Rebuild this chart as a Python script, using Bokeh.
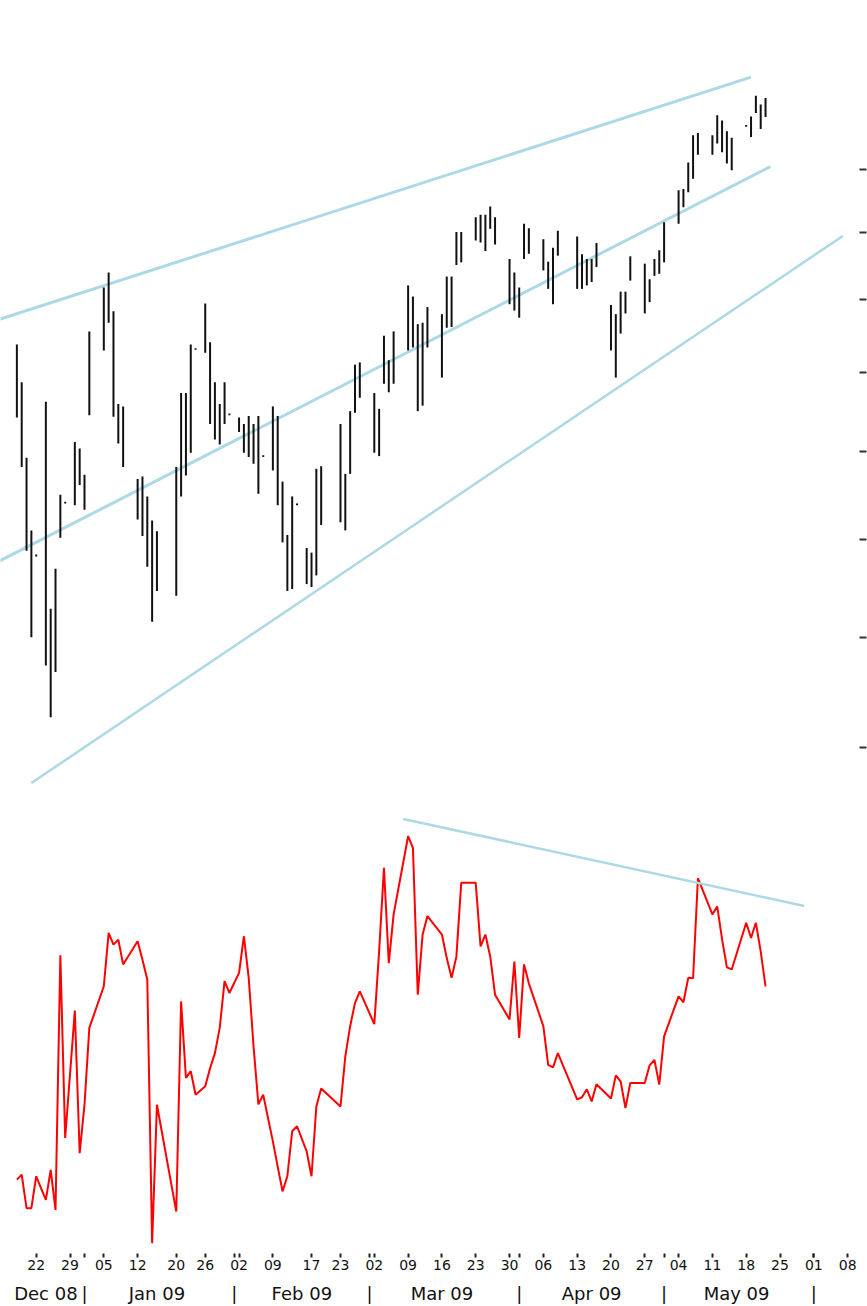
import datetime as dt
from bokeh.plotting import figure
from bokeh.models import (Range1d, LinearAxis, FixedTicker, CustomJSTickFormatter,
                          LinearScale, ColumnDataSource)
from bokeh.embed import file_html
from bokeh.resources import INLINE

# ---------------- data ----------------
dates = ["2008-12-18", "2008-12-19", "2008-12-20", "2008-12-21", "2008-12-22", "2008-12-24",
         "2008-12-25", "2008-12-26", "2008-12-27", "2008-12-28", "2008-12-30", "2008-12-31",
         "2009-01-01", "2009-01-02", "2009-01-05", "2009-01-06", "2009-01-07", "2009-01-08",
         "2009-01-09", "2009-01-12", "2009-01-13", "2009-01-14", "2009-01-15", "2009-01-16",
         "2009-01-20", "2009-01-21", "2009-01-22", "2009-01-23", "2009-01-24", "2009-01-26",
         "2009-01-27", "2009-01-28", "2009-01-29", "2009-01-30", "2009-01-31", "2009-02-02",
         "2009-02-03", "2009-02-04", "2009-02-05", "2009-02-06", "2009-02-07", "2009-02-09",
         "2009-02-10", "2009-02-11", "2009-02-12", "2009-02-13", "2009-02-14", "2009-02-16",
         "2009-02-17", "2009-02-18", "2009-02-19", "2009-02-23", "2009-02-24", "2009-02-25",
         "2009-02-26", "2009-02-27", "2009-03-02", "2009-03-03", "2009-03-04", "2009-03-05",
         "2009-03-06", "2009-03-09", "2009-03-10", "2009-03-11", "2009-03-12", "2009-03-13",
         "2009-03-16", "2009-03-17", "2009-03-18", "2009-03-19", "2009-03-20", "2009-03-23",
         "2009-03-24", "2009-03-25", "2009-03-26", "2009-03-27", "2009-03-30", "2009-03-31",
         "2009-04-01", "2009-04-02", "2009-04-03", "2009-04-06", "2009-04-07", "2009-04-08",
         "2009-04-09", "2009-04-13", "2009-04-14", "2009-04-15", "2009-04-16", "2009-04-17",
         "2009-04-20", "2009-04-21", "2009-04-22", "2009-04-23", "2009-04-24", "2009-04-27",
         "2009-04-28", "2009-04-29", "2009-04-30", "2009-05-01", "2009-05-04", "2009-05-05",
         "2009-05-06", "2009-05-07", "2009-05-08", "2009-05-11", "2009-05-12", "2009-05-13",
         "2009-05-14", "2009-05-15", "2009-05-18", "2009-05-19", "2009-05-20", "2009-05-21",
         "2009-05-22"]

highs = [117.7, 112.7, 103.3, 95.0, 92.4, 110.2, 86.8, 90.9, 99.0, 98.2, 105.2, 104.4,
         101.3, 119.5, 125.7, 127.9, 122.3, 109.9, 109.6, 100.8, 101.1, 98.8, 96.1, 94.9,
         102.2, 111.3, 111.3, 117.7, 117.2, 123.4, 118.0, 112.7, 109.9, 112.7, 108.7, 108.2,
         107.4, 108.4, 107.4, 108.4, 103.6, 109.6, 108.4, 100.5, 94.5, 98.8, 98.0, 93.1,
         92.6, 102.0, 102.3, 107.4, 101.4, 109.0, 115.0, 115.3, 111.3, 109.3, 118.9, 115.6,
         119.5, 126.0, 124.4, 120.5, 120.7, 122.9, 121.9, 127.3, 127.3, 134.0, 134.0, 136.3,
         136.7, 136.7, 138.0, 136.3, 129.9, 127.9, 125.7, 135.3, 134.6, 132.9, 129.5, 131.6,
         134.2, 133.3, 130.6, 129.9, 129.9, 132.3, 123.2, 121.9, 125.1, 125.1, 130.3, 129.2,
         126.9, 129.9, 131.2, 135.5, 140.6, 140.8, 145.2, 149.8, 150.2, 149.8, 153.3, 152.4,
         150.5, 149.4, 151.6, 153.1, 156.8, 155.2, 156.4]

lows = [108.2, 102.2, 92.8, 84.0, 92.2, 81.3, 76.6, 80.7, 94.2, 98.0, 97.8, 100.1,
        97.3, 108.5, 116.9, 120.7, 108.3, 105.0, 102.2, 96.2, 94.4, 91.1, 85.5, 88.6,
        88.1, 98.8, 101.2, 103.9, 117.0, 116.6, 107.4, 105.5, 104.9, 107.4, 108.5, 106.4,
        103.9, 103.4, 102.6, 99.1, 103.4, 101.8, 97.8, 93.7, 88.6, 88.8, 97.8, 89.3,
        89.0, 90.2, 95.6, 95.9, 95.0, 101.4, 108.8, 110.7, 103.9, 103.5, 112.5, 111.4,
        112.5, 116.9, 117.3, 109.0, 109.7, 117.3, 113.3, 120.0, 120.1, 129.0, 129.4, 132.7,
        132.4, 131.1, 134.5, 132.1, 123.3, 122.4, 121.4, 129.9, 130.7, 128.2, 125.5, 123.3,
        130.4, 125.5, 125.5, 126.0, 126.5, 128.7, 116.9, 113.3, 119.2, 122.0, 126.7, 122.0,
        123.6, 127.4, 127.7, 129.4, 135.3, 137.9, 140.3, 142.5, 146.5, 146.5, 148.4, 146.9,
        145.0, 143.9, 151.3, 149.5, 153.7, 150.9, 153.0]

indicator = [17.1, 18.3, 10.3, 10.3, 17.9, 12.3, 19.4, 9.9, 70.5, 27.0, 57.3, 23.4,
             34.9, 53.2, 63.1, 75.8, 73.0, 74.2, 68.3, 73.8, 69.4, 64.7, 2.0, 34.9,
             9.5, 59.5, 41.3, 42.9, 37.3, 39.3, 43.6, 47.2, 53.2, 64.3, 61.5, 66.3,
             75.0, 65.1, 48.8, 35.0, 37.3, 26.2, 20.2, 14.3, 17.9, 28.6, 29.8, 23.8,
             17.9, 34.5, 38.8, 34.5, 46.4, 53.6, 59.1, 61.9, 54.1, 71.4, 91.3, 68.6,
             80.2, 98.8, 96.0, 61.1, 75.4, 79.8, 75.4, 69.8, 65.1, 70.2, 87.7, 87.7,
             72.6, 75.4, 70.2, 61.1, 55.2, 69.0, 50.8, 68.3, 63.8, 53.6, 44.4, 43.8,
             47.2, 36.2, 36.7, 38.6, 35.7, 39.8, 36.4, 41.9, 40.5, 34.1, 40.1, 40.1,
             44.3, 45.6, 39.7, 51.2, 60.7, 59.3, 65.1, 65.0, 88.8, 80.2, 82.1, 74.3,
             67.6, 67.1, 78.2, 74.6, 78.2, 71.4, 63.1]

# trend lines (end points: date, value)
trend_upper_dates = ["2008-12-14", "2009-05-19"]
trend_upper_vals = [121.1, 160.2]
trend_mid_dates = ["2008-12-14", "2009-05-23"]
trend_mid_vals = [91.6, 144.5]
trend_low_dates = ["2008-12-21", "2009-06-07"]
trend_low_vals = [71.0, 133.4]
trend_ind_dates = ["2009-03-08", "2009-05-30"]
trend_ind_vals = [102.9, 82.2]

# axis ticks
price_ticks = [74, 84, 94, 104, 114, 124, 134, 144]
day_tick_dates = ["2008-12-22", "2008-12-29", "2009-01-05", "2009-01-12", "2009-01-20",
                  "2009-01-26", "2009-02-02", "2009-02-09", "2009-02-17", "2009-02-23",
                  "2009-03-02", "2009-03-09", "2009-03-16", "2009-03-23", "2009-03-30",
                  "2009-04-06", "2009-04-13", "2009-04-20", "2009-04-27", "2009-05-04",
                  "2009-05-11", "2009-05-18", "2009-05-25", "2009-06-01", "2009-06-08"]
day_tick_labels = ["22", "29", "05", "12", "20", "26", "02", "09", "17", "23", "02", "09",
                   "16", "23", "30", "06", "13", "20", "27", "04", "11", "18", "25", "01", "08"]
month_start_dates = ["2009-01-01", "2009-02-01", "2009-03-01", "2009-04-01", "2009-05-01",
                     "2009-06-01"]
month_label_dates = ["2008-12-24", "2009-01-16", "2009-02-15", "2009-03-16", "2009-04-16",
                     "2009-05-16"]
month_labels = ["Dec 08", "Jan 09", "Feb 09", "Mar 09", "Apr 09", "May 09"]

# ---------------- helpers ----------------
BASE = dt.date(2009, 1, 1)


def dnum(s):
    return float((dt.date.fromisoformat(s) - BASE).days)


xs = [dnum(s) for s in dates]

# ---------------- figure ----------------
p = figure(width=867, height=1306, x_range=Range1d(-17.391, 160.455),
           y_range=Range1d(41.28, 174.99),
           y_axis_type="log", y_axis_location="right", x_axis_location=None,
           output_backend="svg", toolbar_location=None,
           min_border_left=0, min_border_right=8, min_border_top=0, min_border_bottom=0)
p.extra_y_ranges = {"ind": Range1d(-0.476, 297.62)}
p.extra_y_scales = {"ind": LinearScale()}
p.outline_line_color = None
p.grid.grid_line_color = None
p.background_fill_color = "white"
p.border_fill_color = "white"

TREND = "#ADD8E6"

# trend lines (top)
p.line([dnum(s) for s in trend_upper_dates], trend_upper_vals, line_color=TREND, line_width=3)
p.line([dnum(s) for s in trend_mid_dates], trend_mid_vals, line_color=TREND, line_width=3)
p.line([dnum(s) for s in trend_low_dates], trend_low_vals, line_color=TREND, line_width=2.5)

# price bars
src = ColumnDataSource(dict(x=xs, high=highs, low=lows, ind=indicator))
p.segment(x0="x", y0="high", x1="x", y1="low", source=src, line_color="#111111", line_width=2)

# indicator
p.line(x="x", y="ind", source=src, y_range_name="ind", line_color="red", line_width=2)
p.line([dnum(s) for s in trend_ind_dates], trend_ind_vals, y_range_name="ind",
       line_color=TREND, line_width=2.5)

# right price axis: tick marks only (labels fall outside the view)
ya = p.yaxis[0]
ya.ticker = FixedTicker(ticks=price_ticks)
ya.formatter = CustomJSTickFormatter(code="return '';")
ya.axis_line_color = None
ya.major_tick_in = 0
ya.major_tick_out = 7
ya.major_tick_line_width = 2
ya.major_tick_line_color = "#333333"
ya.minor_tick_line_color = None
ya.major_label_standoff = 0
ya.major_label_text_font_size = "1px"

LOOKUP = "const i = tv.findIndex(t => Math.abs(t - tick) < 1e-6); return i < 0 ? '' : tl[i];"

day_x = [dnum(s) for s in day_tick_dates]
mstart_x = [dnum(s) for s in month_start_dates]
ax_days = LinearAxis(
    ticker=FixedTicker(ticks=day_x, minor_ticks=mstart_x),
    formatter=CustomJSTickFormatter(args=dict(tv=day_x, tl=day_tick_labels), code=LOOKUP))
ax_days.axis_line_color = None
ax_days.major_tick_in = 0
ax_days.major_tick_out = 4
ax_days.minor_tick_in = 0
ax_days.minor_tick_out = 4
ax_days.major_tick_line_width = 2
ax_days.minor_tick_line_width = 2
ax_days.major_tick_line_color = "#222222"
ax_days.minor_tick_line_color = "#222222"
ax_days.major_label_standoff = 2
ax_days.major_label_text_font = "DejaVu Sans"
ax_days.major_label_text_font_size = "14px"
ax_days.major_label_text_color = "#111111"
p.add_layout(ax_days, "below")

mlab_x = [dnum(s) for s in month_label_dates]
m_ticks = mlab_x + mstart_x
m_labels = month_labels + ["|"] * len(mstart_x)
ax_months = LinearAxis(
    ticker=FixedTicker(ticks=m_ticks, minor_ticks=[]),
    formatter=CustomJSTickFormatter(args=dict(tv=m_ticks, tl=m_labels), code=LOOKUP))
ax_months.axis_line_color = None
ax_months.major_tick_line_color = None
ax_months.minor_tick_line_color = None
ax_months.major_tick_in = 0
ax_months.major_tick_out = 0
ax_months.major_label_standoff = 10
ax_months.major_label_text_font = "DejaVu Sans"
ax_months.major_label_text_font_size = "18px"
ax_months.major_label_text_color = "#111111"
p.add_layout(ax_months, "below")

open("out.html", "w").write(file_html(p, INLINE, title="chart"))
